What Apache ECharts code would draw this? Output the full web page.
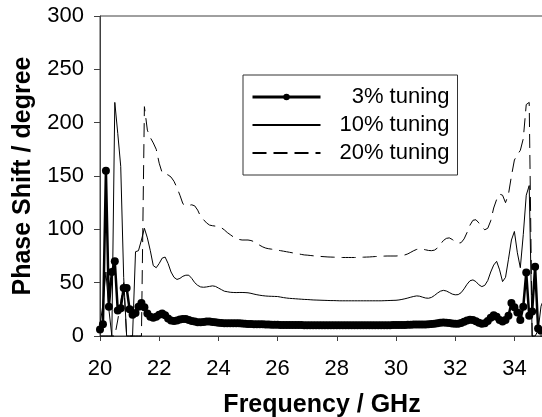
<!DOCTYPE html>
<html>
<head>
<meta charset="utf-8">
<script src="https://cdn.jsdelivr.net/npm/echarts@6/dist/echarts.min.js"></script>
<style>
html,body{margin:0;padding:0;background:#fff;}
#chart{width:542px;height:417px;}
</style>
</head>
<body>
<div id="chart"></div>
<script>
// Frequency points (GHz), 0.1 GHz step from 20 to 35
const freqStart = 20, freqStep = 0.1, freqCount = 151;
const frequencies = Array.from({length: freqCount}, (_, i) => +(freqStart + i * freqStep).toFixed(1));

const seriesNames = ['3% tuning', '10% tuning', '20% tuning'];

const tuning3 = [
  6, 11, 155, 27.5, 60, 70, 24, 26, 45, 45,
  25, 20, 21.5, 27.5, 31, 27, 21, 18, 17, 18,
  20, 21, 19.5, 16.5, 14.5, 14, 14.5, 15.5, 16, 16,
  15, 14, 13.5, 13, 13, 13.2, 13.5, 13.5, 13.2, 12.8,
  12.4, 12.2, 12, 11.9, 11.9, 12, 12, 11.9, 11.7, 11.5,
  11.3, 11.2, 11.1, 11, 11, 10.9, 10.8, 10.7, 10.6, 10.5,
  10.5, 10.4, 10.4, 10.3, 10.3, 10.3, 10.2, 10.2, 10.2, 10.1,
  10.1, 10.1, 10, 10, 10, 10, 10, 10, 10, 10,
  10, 10, 10, 10, 10, 10, 10, 10, 10, 10,
  10, 10, 10, 10, 10, 10, 10, 10.1, 10.1, 10.2,
  10.2, 10.3, 10.3, 10.4, 10.5, 10.6, 10.7, 10.8, 10.8, 10.7,
  10.7, 10.9, 11.2, 11.6, 12, 12.4, 12.6, 12.5, 12.1, 11.7,
  11.5, 11.6, 12.3, 13.4, 14.6, 15.3, 15, 13.8, 12.4, 11.6,
  12, 14, 17, 19.5, 18, 15, 13.5, 15, 19, 31,
  27, 22, 15, 27.5, 59.5, 19, 23, 65, 7, 5,
  5
];

const tuning10 = [
  10, 30, 60, 25, 0, 219, 190, 159, 55, 0,
  0, 0, 79, 80, 90, 101, 92, 80, 66, 64,
  68, 73, 74, 68, 60, 55, 53, 54, 56, 57,
  57, 54, 50, 47.5, 46, 45.7, 46, 46.5, 47, 46.5,
  45, 43.5, 42, 41.5, 41, 40.8, 40.7, 40.8, 40.8, 40.7,
  40.5, 40, 39.3, 38.7, 38.2, 37.8, 37.5, 37.3, 37.2, 37.1,
  37, 36.5, 36, 35.6, 35.3, 35.1, 34.9, 34.7, 34.5, 34.3,
  34.2, 34, 33.8, 33.7, 33.6, 33.5, 33.4, 33.3, 33.2, 33.2,
  33.1, 33, 33, 33, 33, 33, 33, 33, 33, 33,
  33, 33, 33, 33, 33, 33, 33.1, 33.2, 33.3, 33.4,
  33.5, 33.8, 34.3, 34.9, 35.6, 36.4, 37.1, 37.6, 37.3, 36.4,
  35.6, 35.4, 36.2, 38, 40.2, 42, 42.8, 42.2, 40.8, 39.3,
  38.6, 38.8, 40.6, 44.2, 48.5, 51.8, 52.6, 51, 48, 46.3,
  47.5, 52, 60, 66.5, 70, 62, 51, 55, 72, 90,
  98, 78, 64, 95, 132, 141, 0, 0, 5, 28,
  35
];

const tuning20 = [
  0, 0, 0, 0, 0, 0, 15, 32, 50, 0,
  0, 0, 0, 0, 0, 215, 193, 186, 181, 175,
  162, 153, 152, 151, 149, 145, 139, 132, 124, 122,
  122.5, 123, 122, 118, 112, 109, 106, 104, 103.4, 103,
  102.5, 101.5, 99.5, 97, 95, 93, 91.5, 90.5, 90, 90,
  90, 89.5, 88.5, 87, 85, 83.5, 82.4, 81.8, 81.4, 81,
  80.5, 80, 79.5, 79, 78.5, 78, 77.5, 77, 76.5, 76,
  75.8, 75.5, 75.2, 75, 74.7, 74.5, 74.3, 74.1, 74, 73.9,
  73.8, 73.7, 73.6, 73.6, 73.6, 73.6, 73.6, 73.7, 73.8, 73.9,
  74, 74.1, 74.3, 74.5, 74.6, 74.8, 74.9, 75, 75, 75,
  75, 75.2, 75.5, 76, 77, 78.5, 80, 81.2, 81.6, 81.4,
  80.8, 80.2, 80, 80.5, 82.5, 86, 89.5, 91.5, 92, 90.5,
  88.5, 87, 87.5, 91, 97, 104, 108.5, 109, 106, 102,
  99.6, 101, 108, 120, 128, 133, 132, 125, 133, 150,
  165, 170, 174, 185, 217, 219, 0, 0, 0, 0,
  0
];

const xTicks = [20, 22, 24, 26, 28, 30, 32, 34];
const yTicks = [0, 50, 100, 150, 200, 250, 300];

const pair = vals => frequencies.map((f, i) => [f, vals[i]]);

const FONT = '"Liberation Sans", Arial, sans-serif';
const AX = '#404040';

const chart = echarts.init(document.getElementById('chart'), null, {renderer: 'canvas'});
chart.setOption({
  animation: false,
  backgroundColor: '#ffffff',
  grid: {left: 100, top: 16, right: -2, bottom: 81, show: true, borderColor: AX, borderWidth: 1,
    containLabel: false, outerBoundsMode: 'none'},
  xAxis: {
    type: 'value', min: xTicks[0], max: 35, interval: xTicks[1] - xTicks[0],
    name: 'Frequency / GHz', nameLocation: 'middle', nameGap: 57,
    nameTextStyle: {fontFamily: FONT, fontSize: 25, fontWeight: 'bold', color: '#000'},
    axisLine: {lineStyle: {color: AX, width: 1}},
    axisTick: {inside: false, length: 5, lineStyle: {color: AX}},
    axisLabel: {fontFamily: FONT, fontSize: 22, color: '#000', margin: 22, showMaxLabel: false,
      formatter: v => xTicks.includes(v) ? String(v) : ''},
    splitLine: {show: false}
  },
  yAxis: {
    type: 'value', min: yTicks[0], max: yTicks[yTicks.length - 1], interval: yTicks[1] - yTicks[0],
    name: 'Phase Shift / degree', nameLocation: 'middle', nameGap: 64,
    nameTextStyle: {fontFamily: FONT, fontSize: 25, fontWeight: 'bold', color: '#000'},
    axisLine: {show: true, lineStyle: {color: AX, width: 1}},
    axisTick: {show: true, inside: false, length: 6, lineStyle: {color: AX}},
    axisLabel: {fontFamily: FONT, fontSize: 22, color: '#000', margin: 16},
    splitLine: {show: false}
  },
  legend: {
    orient: 'vertical', left: 243, top: 75,
    padding: [11, 8, 11, 8], itemGap: 6,
    itemWidth: 68, itemHeight: 8,
    borderColor: '#333', borderWidth: 1, backgroundColor: '#fff',
    data: [
      {name: seriesNames[0], lineStyle: {width: 3}},
      {name: seriesNames[1], itemStyle: {opacity: 0}},
      {name: seriesNames[2], itemStyle: {opacity: 0}}
    ],
    formatter: n => '{a|' + n + '}',
    textStyle: {fontFamily: FONT, fontSize: 22, color: '#000',
      rich: {a: {fontFamily: FONT, fontSize: 22, color: '#000', width: 124, align: 'right'}}}
  },
  series: [
    {
      name: seriesNames[1], type: 'line', data: pair(tuning10), clip: false,
      showSymbol: false, symbol: 'none',
      lineStyle: {color: '#000', width: 1}, itemStyle: {color: '#000'}, z: 2
    },
    {
      name: seriesNames[2], type: 'line', data: pair(tuning20), clip: false,
      showSymbol: false, symbol: 'none',
      lineStyle: {color: '#000', width: 1, type: [14, 7]}, itemStyle: {color: '#000'}, z: 2
    },
    {
      name: seriesNames[0], type: 'line', data: pair(tuning3), clip: false,
      symbol: 'circle', symbolSize: 8, showAllSymbol: true,
      lineStyle: {color: '#000', width: 2.5}, itemStyle: {color: '#000', borderWidth: 0}, z: 3
    }
  ]
});
</script>
</body>
</html>
